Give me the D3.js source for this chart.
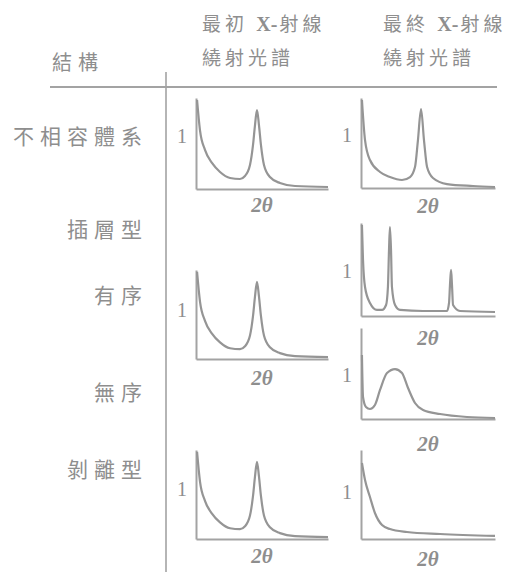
<!DOCTYPE html>
<html>
<head>
<meta charset="utf-8">
<script src="https://cdn.jsdelivr.net/npm/d3@7"></script>
<style>
  html, body { margin: 0; padding: 0; background: #fff; }
  svg { display: block; }
</style>
</head>
<body>
<svg id="chart" width="518" height="576"></svg>
<script>
// ---- Data (x = 2θ position 0–100, y = intensity 0–100) ----
const columnHeaders = [["最初 X-射線", "繞射光譜"], ["最終 X-射線", "繞射光譜"]];
const headerLeft = "結構";
const rowLabels = ["不相容體系", "插層型", "有序", "無序", "剝離型"];
const xLabel = "2θ";
const yLabel = "1";

const initialX = [0.8, 3, 6.8, 12.1, 18.2, 25.8, 33.3, 37.1, 40.9, 43.2, 44.7, 46.2, 47.7, 49.2, 51.5, 56, 63.6, 75, 100];
const initialY = [97.8, 64.8, 42.9, 28.6, 18.7, 12.1, 11, 14.3, 26.4, 48.4, 70.3, 86.8, 70.3, 48.4, 26.4, 13.2, 6.6, 3.3, 2.2];

const immiscibleFinalX = [0.7, 3.0, 6.7, 14.2, 21.6, 30.6, 36.6, 40.3, 42.5, 44.8, 47.0, 49.3, 53.7, 64.2, 83.6, 100];
const immiscibleFinalY = [97.8, 53.3, 31.1, 17.8, 12.2, 8.9, 12.2, 23.3, 53.3, 87.8, 53.3, 23.3, 11.1, 4.4, 2.2, 1.1];

const orderedFinalX = [0.7, 1.5, 3.0, 6.7, 11.9, 15.7, 18.7, 20.1, 20.9, 21.6, 22.4, 23.1, 25.4, 29.1, 46.3, 64.2, 65.7, 66.4, 67.2, 67.9, 68.7, 73.9, 100];
const orderedFinalY = [97.8, 60.2, 31.2, 14.0, 6.5, 6.5, 11.8, 31.2, 71.0, 95.7, 71.0, 31.2, 11.8, 6.5, 5.4, 5.4, 14.0, 33.3, 49.5, 33.3, 11.8, 5.4, 4.3];

const disorderedFinalX = [0.7, 1.5, 3.7, 6.7, 10.4, 14.2, 19.4, 25.4, 30.6, 35.1, 40.3, 46.3, 59.0, 79.1, 100];
const disorderedFinalY = [70.3, 24.2, 13.2, 11.0, 15.4, 31.9, 50.5, 54.9, 50.5, 34.1, 17.6, 9.9, 5.5, 2.2, 1.1];

const exfoliatedFinalX = [0.7, 3.0, 6.7, 10.4, 15.7, 21.6, 34.3, 59.0, 100];
const exfoliatedFinalY = [85.4, 66.3, 47.2, 29.2, 15.7, 11.2, 7.9, 5.6, 3.4];

const zip = (xs, ys) => xs.map((x, i) => ({ x, y: ys[i] }));

// ---- Layout ----
const cols = [{ x0: 196, x1: 328 }, { x0: 361, x1: 495 }];
const panels = [
  { col: 0, top: 98,  bottom: 189, xs: initialX,         ys: initialY,         oneAt: 0.44, lblOff: 18 },
  { col: 1, top: 98,  bottom: 188, xs: immiscibleFinalX, ys: immiscibleFinalY, oneAt: 0.44, lblOff: 20 },
  { col: 0, top: 270, bottom: 359, xs: initialX,         ys: initialY,         oneAt: 0.48, lblOff: 21 },
  { col: 1, top: 223, bottom: 316, xs: orderedFinalX,    ys: orderedFinalY,    oneAt: 0.54, lblOff: 24 },
  { col: 1, top: 328, bottom: 419, xs: disorderedFinalX, ys: disorderedFinalY, oneAt: 0.54, lblOff: 27 },
  { col: 0, top: 450, bottom: 539, xs: initialX,         ys: initialY,         oneAt: 0.47, lblOff: 19 },
  { col: 1, top: 450, bottom: 539, xs: exfoliatedFinalX, ys: exfoliatedFinalY, oneAt: 0.50, lblOff: 22 }
];
const rowLabelY = [138, 231, 297, 394, 471];

const textColor = "#8e8e8e";
const lineColor = "#a3a3a3";
const curveColor = "#959595";
const cjkFont = "'Noto Sans CJK TC', 'Noto Sans CJK SC', sans-serif";
const serifFont = "'Liberation Serif', 'DejaVu Serif', serif";

const svg = d3.select("#chart");

// Table rules
svg.append("line").attr("x1", 50).attr("x2", 497).attr("y1", 87).attr("y2", 87)
  .attr("stroke", lineColor).attr("stroke-width", 2);
svg.append("line").attr("x1", 166).attr("x2", 166).attr("y1", 72).attr("y2", 572)
  .attr("stroke", lineColor).attr("stroke-width", 1.6);

// Headers
svg.append("text").attr("x", 52).attr("y", 65)
  .attr("dominant-baseline", "middle")
  .attr("font-family", cjkFont).attr("font-size", 20).attr("letter-spacing", 6)
  .attr("fill", textColor).text(headerLeft);

const headerX = [202, 383];
columnHeaders.forEach((lines, i) => {
  lines.forEach((line, j) => {
    const t = svg.append("text").attr("x", headerX[i]).attr("y", 26 + j * 34)
      .attr("dominant-baseline", "middle")
      .attr("font-family", cjkFont).attr("font-size", 19).attr("letter-spacing", 4)
      .attr("fill", textColor);
    if (line.includes("X-")) {
      const [a, b] = line.split("X-");
      t.append("tspan").text(a);
      t.append("tspan").attr("font-family", serifFont).attr("font-weight", "bold")
        .attr("font-size", 20).attr("letter-spacing", 0).text("X-");
      t.append("tspan").attr("dx", 2).text(b);
    } else {
      t.text(line);
    }
  });
});

// Row labels
rowLabels.forEach((lbl, i) => {
  svg.append("text").attr("x", 148).attr("y", rowLabelY[i])
    .attr("text-anchor", "end").attr("dominant-baseline", "middle")
    .attr("font-family", cjkFont).attr("font-size", 21).attr("letter-spacing", 6)
    .attr("fill", textColor).text(lbl);
});

// Panels
const line = d3.line().x(d => d.px).y(d => d.py).curve(d3.curveMonotoneX);
panels.forEach(p => {
  const c = cols[p.col];
  const x = d3.scaleLinear().domain([0, 100]).range([c.x0, c.x1]);
  const y = d3.scaleLinear().domain([0, 100]).range([p.bottom, p.top]);
  const g = svg.append("g");

  const xAxis = g.append("g").attr("transform", `translate(0,${p.bottom})`)
    .call(d3.axisBottom(x).tickValues([]).tickSizeOuter(0));
  const yAxis = g.append("g").attr("transform", `translate(${c.x0},0)`)
    .call(d3.axisLeft(y).tickValues([]).tickSizeOuter(0));
  [xAxis, yAxis].forEach(a => a.select(".domain")
    .attr("stroke", lineColor).attr("stroke-width", 2));

  const pts = zip(p.xs, p.ys).map(d => ({ px: x(d.x), py: y(d.y) }));
  g.append("path").attr("d", line(pts)).attr("fill", "none")
    .attr("stroke", curveColor).attr("stroke-width", 2.2)
    .attr("stroke-linejoin", "round");

  g.append("text").attr("x", c.x0 - 14).attr("y", p.top + (p.bottom - p.top) * p.oneAt)
    .attr("text-anchor", "middle").attr("dominant-baseline", "middle")
    .attr("font-family", serifFont).attr("font-size", 20)
    .attr("fill", textColor).text(yLabel);

  g.append("text").attr("x", (c.x0 + c.x1) / 2).attr("y", p.bottom + p.lblOff)
    .attr("text-anchor", "middle").attr("dominant-baseline", "middle")
    .attr("font-family", serifFont).attr("font-style", "italic").attr("font-weight", "bold")
    .attr("font-size", 21).attr("fill", textColor).text(xLabel);
});
</script>
</body>
</html>
